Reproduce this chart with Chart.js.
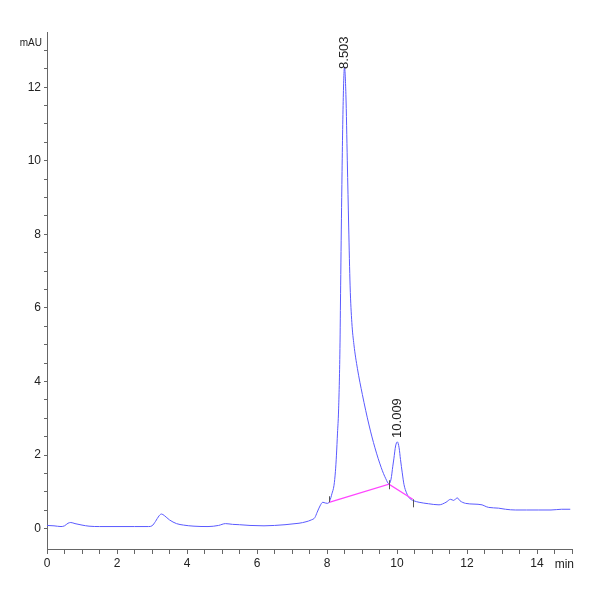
<!DOCTYPE html>
<html>
<head>
<meta charset="utf-8">
<script src="https://cdn.jsdelivr.net/npm/chart.js@4"></script>
<style>
html,body{margin:0;padding:0;background:#fff;}
#wrap{width:600px;height:600px;position:relative;}
</style>
</head>
<body>
<div id="wrap"><canvas id="c" width="600" height="600"></canvas></div>
<script>
// Chromatogram trace (time in min, absorbance in mAU)
const traceTimes = [0.00,0.20,0.40,0.50,0.60,0.68,0.80,1.00,1.20,1.50,2.00,2.50,2.90,3.00,3.10,3.20,3.27,3.35,3.50,3.70,3.90,4.20,4.60,4.90,5.10,5.30,5.50,5.80,6.20,6.50,6.80,7.00,7.20,7.40,7.55,7.65,7.72,7.80,7.88,7.95,8.02,8.08,8.14,8.20,8.24,8.27,8.30,8.33,8.37,8.39,8.42,8.46,8.50,8.54,8.58,8.62,8.66,8.71,8.77,8.87,9.01,9.20,9.37,9.55,9.68,9.77,9.83,9.88,9.91,9.96,10.01,10.06,10.10,10.15,10.20,10.27,10.34,10.41,10.48,10.63,10.90,11.20,11.40,11.53,11.62,11.72,11.80,11.96,12.20,12.43,12.55,12.62,12.90,13.10,13.38,13.70,14.05,14.40,14.70,14.95];
const traceValues = [0.09,0.08,0.06,0.08,0.15,0.17,0.14,0.10,0.07,0.06,0.06,0.06,0.06,0.08,0.20,0.35,0.40,0.36,0.24,0.14,0.10,0.07,0.06,0.09,0.14,0.12,0.11,0.09,0.08,0.09,0.11,0.13,0.15,0.19,0.24,0.30,0.45,0.62,0.72,0.70,0.69,0.76,0.95,1.18,1.55,2.00,2.60,3.20,4.90,6.60,9.00,11.50,12.55,11.80,10.00,8.20,6.60,5.60,5.00,4.35,3.65,2.82,2.20,1.66,1.36,1.22,1.35,1.70,1.90,2.25,2.36,2.20,1.88,1.52,1.20,0.98,0.85,0.79,0.76,0.72,0.68,0.65,0.72,0.80,0.77,0.84,0.76,0.69,0.67,0.65,0.60,0.58,0.56,0.53,0.51,0.51,0.51,0.51,0.53,0.53];

// Integration baseline points
const baseTimes = [8.06, 9.77, 10.45];
const baseValues = [0.72, 1.21, 0.80];

// Peak annotations
const peakTimes = [8.503, 10.009];
const peakHeights = [12.55, 2.36];
const peakLabels = ['8.503', '10.009'];

// Axis ticks
const xTickLabels = ['0','2','4','6','8','10','12','14'];
const yTickLabels = ['0','2','4','6','8','10','12'];
const yUnit = 'mAU';
const xUnit = 'min';

const FONT = '"Liberation Sans Narrow","Liberation Sans","DejaVu Sans Condensed",sans-serif';

const trace = traceTimes.map((t,i)=>({x:t,y:traceValues[i]}));
const base = baseTimes.map((t,i)=>({x:t,y:baseValues[i]}));

const annot = {
  id:'annot',
  afterDatasetsDraw(chart){
    const ctx = chart.ctx, xs = chart.scales.x, ys = chart.scales.y;
    ctx.save();
    // baseline event marks
    ctx.strokeStyle = '#555';
    ctx.lineWidth = 1;
    baseTimes.forEach((t,i)=>{
      const px = Math.round(xs.getPixelForValue(t))+0.5, py = ys.getPixelForValue(baseValues[i]);
      ctx.beginPath();
      if(i===0){ctx.moveTo(px,py-6);ctx.lineTo(px,py);}
      else if(i===baseTimes.length-1){ctx.moveTo(px,py);ctx.lineTo(px,py+8);}
      else {ctx.moveTo(px,py-4);ctx.lineTo(px,py+5);}
      ctx.stroke();
    });
    // peak labels
    ctx.fillStyle = '#222';
    ctx.font = '13px ' + FONT;
    ctx.textAlign = 'left';
    ctx.textBaseline = 'middle';
    peakTimes.forEach((t,i)=>{
      const px = xs.getPixelForValue(t), py = ys.getPixelForValue(peakHeights[i]);
      ctx.save();
      ctx.translate(px, py - (i===0 ? -2 : 4));
      ctx.rotate(-Math.PI/2);
      ctx.fillText(peakLabels[i], 0, 0);
      ctx.restore();
    });
    // unit labels
    ctx.fillStyle = '#222';
    ctx.font = '10px ' + FONT;
    ctx.textAlign = 'right';
    ctx.textBaseline = 'middle';
    ctx.fillText(yUnit, xs.left - 5, ys.getPixelForValue(13.2));
    ctx.textAlign = 'right';
    ctx.textBaseline = 'top';
    ctx.font = '12px ' + FONT;
    ctx.fillText(xUnit, xs.right + 2, ys.bottom + 10);
    ctx.restore();
  }
};

new Chart(document.getElementById('c'), {
  type:'line',
  data:{datasets:[
    {data:base, borderColor:'#ff44ff', borderWidth:1.3, pointRadius:0, tension:0, order:1},
    {data:trace, borderColor:'#5a5aff', borderWidth:1, pointRadius:0, cubicInterpolationMode:'monotone', order:2}
  ]},
  options:{
    responsive:false, animation:false,
    plugins:{legend:{display:false}, tooltip:{enabled:false}},
    layout:{padding:{top:32,right:28,left:0,bottom:0}},
    scales:{
      x:{type:'linear', min:0, max:15,
        border:{display:true,color:'#666',width:1},
        grid:{drawOnChartArea:false, drawTicks:true, tickLength:5, color:'#666'},
        ticks:{stepSize:0.5, autoSkip:false, maxRotation:0, padding:2, color:'#222',
          font:{family:FONT,size:12},
          callback:(v)=>{ const s = String(v); return (v<15 && xTickLabels.includes(s)) ? s : ''; }},
        afterFit:(s)=>{s.height = 51;}
      },
      y:{type:'linear', min:-0.55, max:13.5,
        border:{display:true,color:'#666',width:1},
        grid:{drawOnChartArea:false, drawTicks:true, tickLength:3, color:'#666'},
        ticks:{stepSize:0.5, autoSkip:false, padding:3, color:'#222',
          font:{family:FONT,size:12},
          callback:(v)=>{ const s = String(v); return yTickLabels.includes(s) ? s : ''; }},
        afterBuildTicks:(s)=>{ s.ticks = s.ticks.filter(t=>t.value>=-0.5 && t.value<=13); },
        afterFit:(s)=>{s.width = 47;}
      }
    }
  },
  plugins:[annot]
});
</script>
</body>
</html>
